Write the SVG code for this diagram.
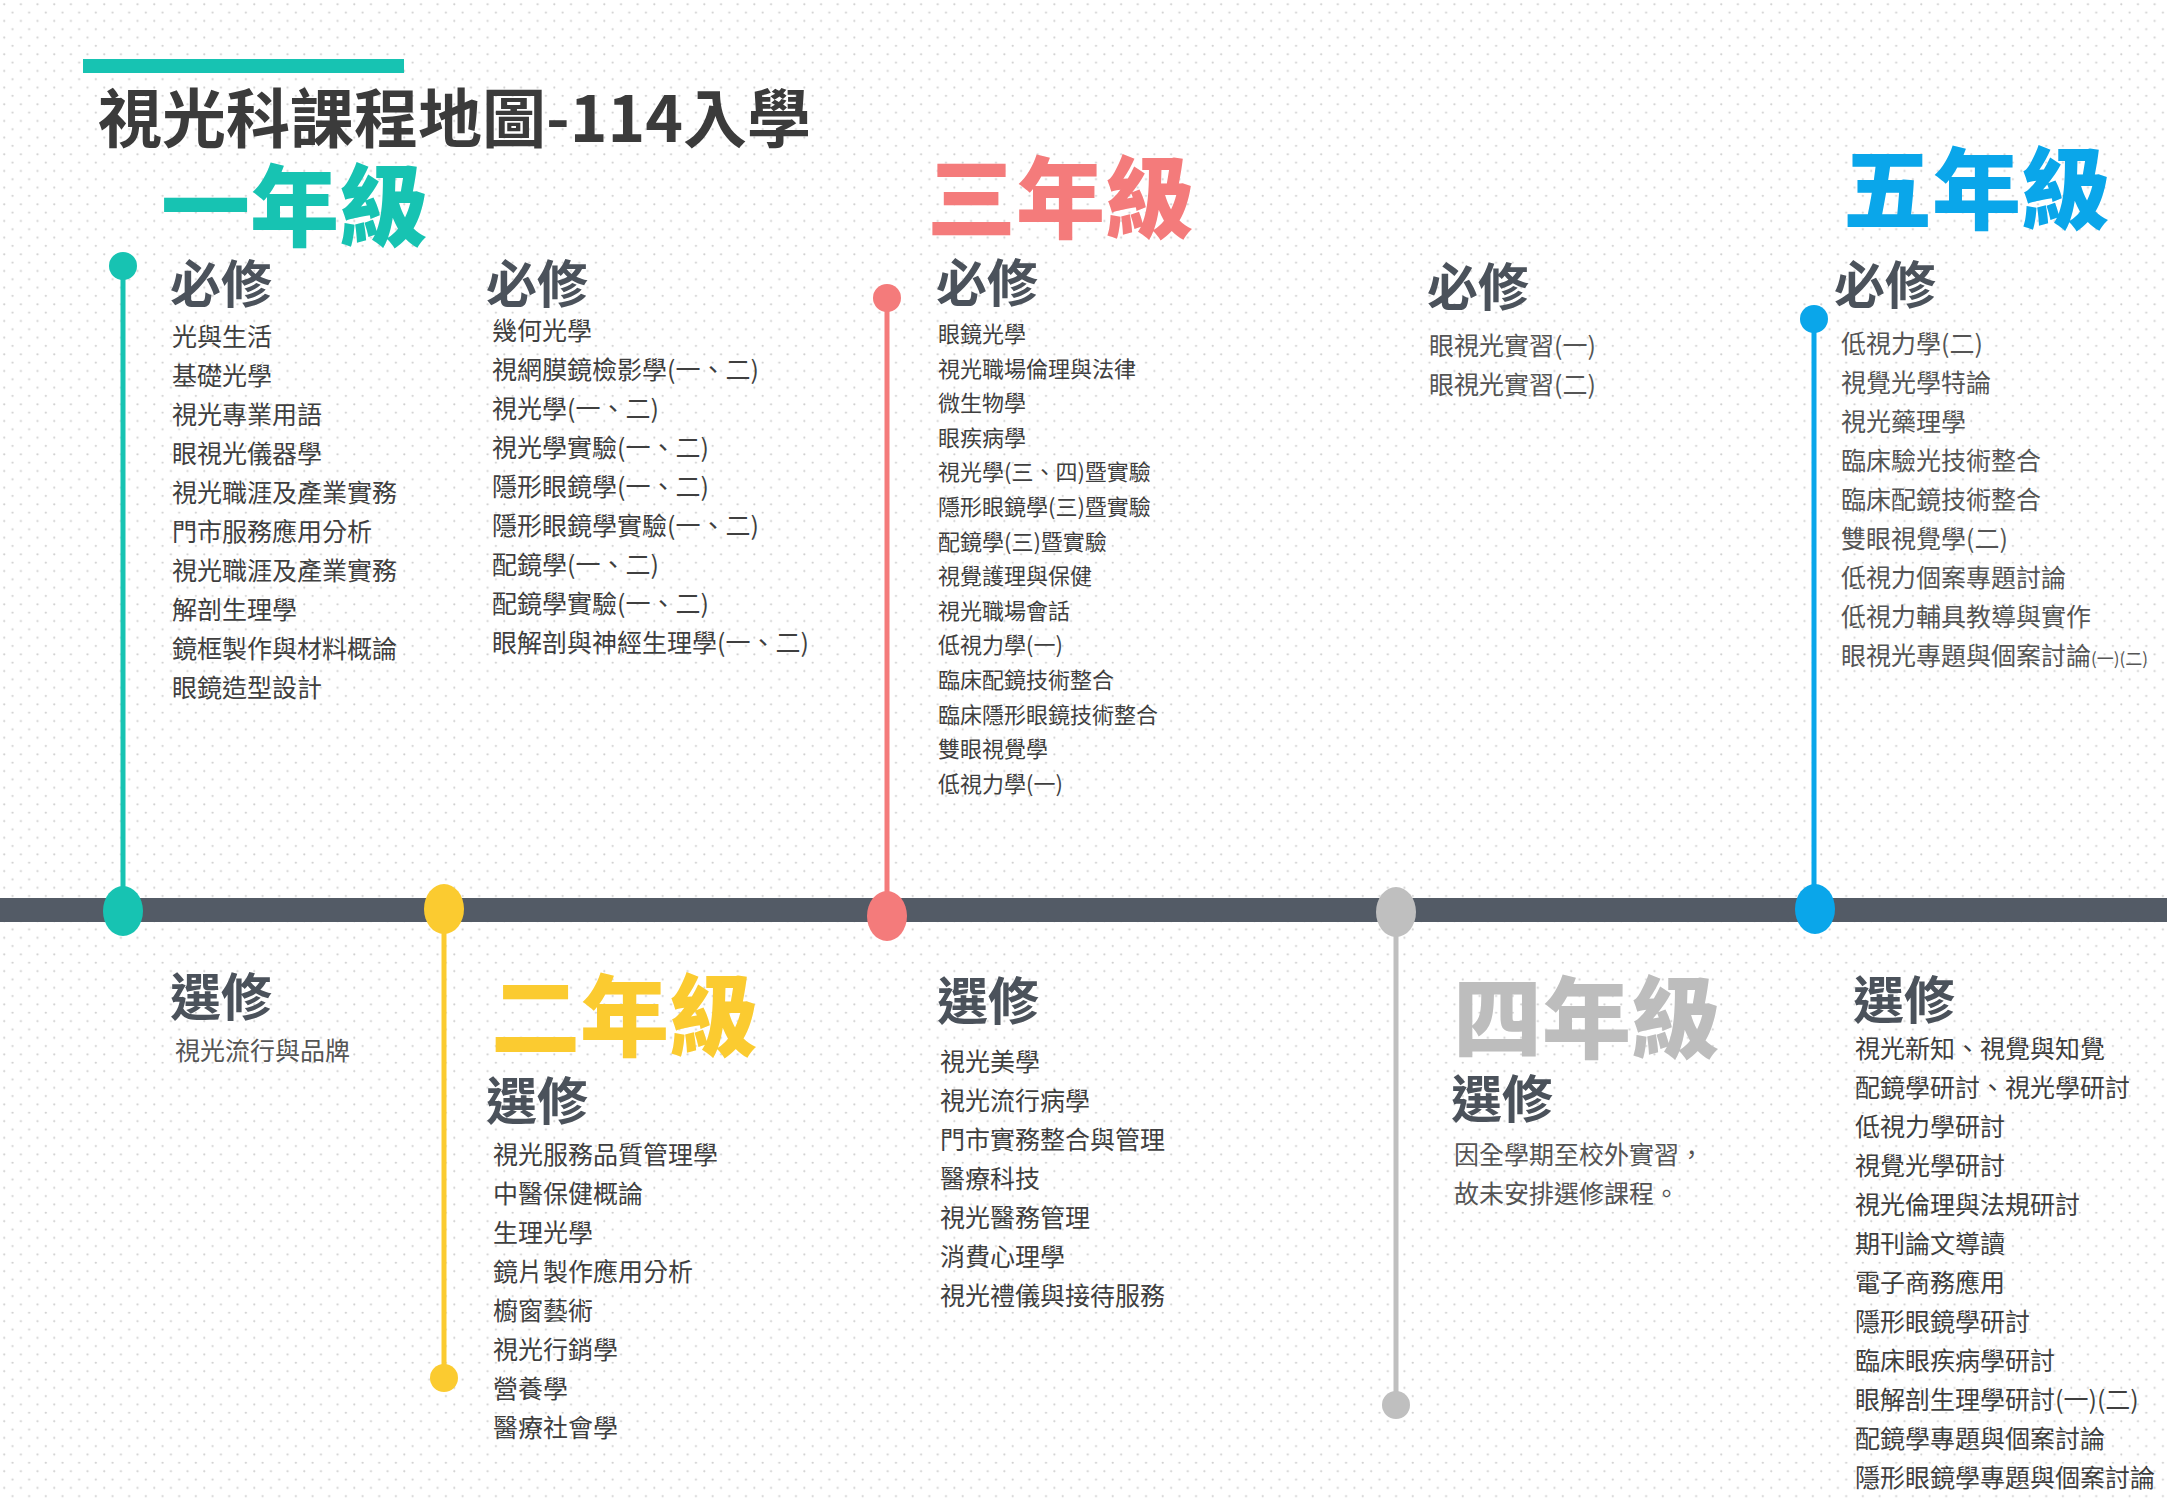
<svg xmlns="http://www.w3.org/2000/svg" width="2167" height="1500" viewBox="0 0 2167 1500">
<defs>
<pattern id="dots" width="16.67" height="16.67" patternUnits="userSpaceOnUse">
<circle cx="4.2" cy="4.2" r="1.1" fill="#cfcfcf"/>
<circle cx="12.5" cy="12.5" r="1.1" fill="#cfcfcf"/>
</pattern>
<style>
text{font-family:"Noto Sans CJK TC","Noto Sans CJK SC",sans-serif;}
.title{font-size:64px;font-weight:700;fill:#3b3b3b;}
.yr{font-size:89px;font-weight:900;}
.sec{font-size:51px;font-weight:700;fill:#4b525b;}
.it{font-size:25px;fill:#3f3f3f;}
.it2{font-size:22px;fill:#3f3f3f;}
.lt{font-size:25px;fill:#555555;}
.sm{font-size:17px;}
.vline{stroke-width:5;fill:none;}
</style>
</defs>
<rect width="2167" height="1500" fill="#ffffff"/>
<rect width="2167" height="1500" fill="url(#dots)"/>

<g id="title">
<rect x="83" y="59" width="321" height="14" fill="#17c3b2"/>
<text class="title" x="98" y="142">視光科課程地圖-114入學</text>
</g>

<g id="connectors">
<rect x="0" y="898" width="2167" height="24" fill="#535b66"/>
<line class="vline" x1="123" y1="266" x2="123" y2="911" stroke="#17c3b2"/>
<line class="vline" x1="444" y1="909" x2="444" y2="1378" stroke="#fbcb30"/>
<line class="vline" x1="887" y1="298" x2="887" y2="916" stroke="#f47b7b"/>
<line class="vline" x1="1396" y1="912" x2="1396" y2="1405" stroke="#bfbfbf"/>
<line class="vline" x1="1814" y1="319" x2="1814" y2="909" stroke="#0aa6ea"/>
</g>

<g id="year1">
<circle cx="123" cy="266" r="14" fill="#17c3b2"/>
<ellipse cx="123" cy="911" rx="20" ry="25" fill="#17c3b2"/>
<text class="yr" x="161" y="239" fill="#17c3b2">一年級</text>
<text class="sec" x="170" y="303">必修</text>
<text class="it" x="172" y="346">光與生活</text>
<text class="it" x="172" y="385">基礎光學</text>
<text class="it" x="172" y="424">視光專業用語</text>
<text class="it" x="172" y="463">眼視光儀器學</text>
<text class="it" x="172" y="502">視光職涯及產業實務</text>
<text class="it" x="172" y="541">門市服務應用分析</text>
<text class="it" x="172" y="580">視光職涯及產業實務</text>
<text class="it" x="172" y="619">解剖生理學</text>
<text class="it" x="172" y="658">鏡框製作與材料概論</text>
<text class="it" x="172" y="697">眼鏡造型設計</text>
<text class="sec" x="486" y="303">必修</text>
<text class="it" x="492" y="340">幾何光學</text>
<text class="it" x="492" y="379">視網膜鏡檢影學(一、二)</text>
<text class="it" x="492" y="418">視光學(一、二)</text>
<text class="it" x="492" y="457">視光學實驗(一、二)</text>
<text class="it" x="492" y="496">隱形眼鏡學(一、二)</text>
<text class="it" x="492" y="535">隱形眼鏡學實驗(一、二)</text>
<text class="it" x="492" y="574">配鏡學(一、二)</text>
<text class="it" x="492" y="613">配鏡學實驗(一、二)</text>
<text class="it" x="492" y="652">眼解剖與神經生理學(一、二)</text>
<text class="sec" x="170" y="1016">選修</text>
<text class="lt" x="175" y="1060">視光流行與品牌</text>
</g>

<g id="year2">
<ellipse cx="444" cy="909" rx="20" ry="25" fill="#fbcb30"/>
<circle cx="444" cy="1378" r="14" fill="#fbcb30"/>
<text class="yr" x="491" y="1049" fill="#fbcb30">二年級</text>
<text class="sec" x="486" y="1120">選修</text>
<text class="it" x="493" y="1164">視光服務品質管理學</text>
<text class="it" x="493" y="1203">中醫保健概論</text>
<text class="it" x="493" y="1242">生理光學</text>
<text class="it" x="493" y="1281">鏡片製作應用分析</text>
<text class="it" x="493" y="1320">櫥窗藝術</text>
<text class="it" x="493" y="1359">視光行銷學</text>
<text class="it" x="493" y="1398">營養學</text>
<text class="it" x="493" y="1437">醫療社會學</text>
</g>

<g id="year3">
<circle cx="887" cy="298" r="14" fill="#f47b7b"/>
<ellipse cx="887" cy="916" rx="20" ry="25" fill="#f47b7b"/>
<text class="yr" x="927" y="231" fill="#f47b7b">三年級</text>
<text class="sec" x="936" y="302">必修</text>
<text class="it2" x="938" y="342">眼鏡光學</text>
<text class="it2" x="938" y="376.6">視光職場倫理與法律</text>
<text class="it2" x="938" y="411.2">微生物學</text>
<text class="it2" x="938" y="445.8">眼疾病學</text>
<text class="it2" x="938" y="480.4">視光學(三、四)暨實驗</text>
<text class="it2" x="938" y="515">隱形眼鏡學(三)暨實驗</text>
<text class="it2" x="938" y="549.6">配鏡學(三)暨實驗</text>
<text class="it2" x="938" y="584.2">視覺護理與保健</text>
<text class="it2" x="938" y="618.8">視光職場會話</text>
<text class="it2" x="938" y="653.4">低視力學(一)</text>
<text class="it2" x="938" y="688">臨床配鏡技術整合</text>
<text class="it2" x="938" y="722.6">臨床隱形眼鏡技術整合</text>
<text class="it2" x="938" y="757.2">雙眼視覺學</text>
<text class="it2" x="938" y="791.8">低視力學(一)</text>
<text class="sec" x="937" y="1020">選修</text>
<text class="it" x="940" y="1071">視光美學</text>
<text class="it" x="940" y="1110">視光流行病學</text>
<text class="it" x="940" y="1149">門市實務整合與管理</text>
<text class="it" x="940" y="1188">醫療科技</text>
<text class="it" x="940" y="1227">視光醫務管理</text>
<text class="it" x="940" y="1266">消費心理學</text>
<text class="it" x="940" y="1305">視光禮儀與接待服務</text>
</g>

<g id="year4">
<ellipse cx="1396" cy="912" rx="20" ry="25" fill="#bfbfbf"/>
<circle cx="1396" cy="1405" r="14" fill="#bfbfbf"/>
<text class="sec" x="1427" y="306">必修</text>
<text class="lt" x="1429" y="355">眼視光實習(一)</text>
<text class="lt" x="1429" y="394">眼視光實習(二)</text>
<text class="yr" x="1453" y="1051" fill="#bdbdbd">四年級</text>
<text class="sec" x="1451" y="1118">選修</text>
<text class="lt" x="1454" y="1164">因全學期至校外實習，</text>
<text class="lt" x="1454" y="1203">故未安排選修課程。</text>
</g>

<g id="year5">
<circle cx="1814" cy="319" r="14" fill="#0aa6ea"/>
<ellipse cx="1815" cy="909" rx="20" ry="25" fill="#0aa6ea"/>
<text class="yr" x="1843" y="222" fill="#0aa6ea">五年級</text>
<text class="sec" x="1834" y="304">必修</text>
<text class="lt" x="1841" y="353">低視力學(二)</text>
<text class="lt" x="1841" y="392">視覺光學特論</text>
<text class="lt" x="1841" y="431">視光藥理學</text>
<text class="lt" x="1841" y="470">臨床驗光技術整合</text>
<text class="lt" x="1841" y="509">臨床配鏡技術整合</text>
<text class="lt" x="1841" y="548">雙眼視覺學(二)</text>
<text class="lt" x="1841" y="587">低視力個案專題討論</text>
<text class="lt" x="1841" y="626">低視力輔具教導與實作</text>
<text class="lt" x="1841" y="665">眼視光專題與個案討論<tspan class="sm">(一)(二)</tspan></text>
<text class="sec" x="1853" y="1019">選修</text>
<text class="it" x="1855" y="1058">視光新知、視覺與知覺</text>
<text class="it" x="1855" y="1097">配鏡學研討、視光學研討</text>
<text class="it" x="1855" y="1136">低視力學研討</text>
<text class="it" x="1855" y="1175">視覺光學研討</text>
<text class="it" x="1855" y="1214">視光倫理與法規研討</text>
<text class="it" x="1855" y="1253">期刊論文導讀</text>
<text class="it" x="1855" y="1292">電子商務應用</text>
<text class="it" x="1855" y="1331">隱形眼鏡學研討</text>
<text class="it" x="1855" y="1370">臨床眼疾病學研討</text>
<text class="it" x="1855" y="1409">眼解剖生理學研討(一)(二)</text>
<text class="it" x="1855" y="1448">配鏡學專題與個案討論</text>
<text class="it" x="1855" y="1487">隱形眼鏡學專題與個案討論</text>
</g>
</svg>
